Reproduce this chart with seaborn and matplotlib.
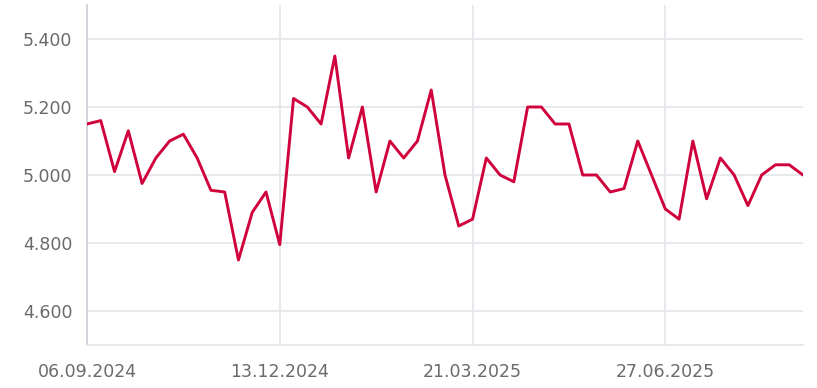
import matplotlib
matplotlib.use("Agg")
import matplotlib.pyplot as plt
import matplotlib.dates as mdates
import matplotlib.ticker as mticker
import seaborn as sns
import pandas as pd
import numpy as np

start_date = "2024-09-06"
n_weeks = 53
values = [5150, 5160, 5010, 5130, 4975, 5050, 5100, 5120, 5050, 4955,
          4950, 4750, 4890, 4950, 4795, 5225, 5200, 5150, 5350, 5050,
          5200, 4950, 5100, 5050, 5100, 5250, 5000, 4850, 4870, 5050,
          5000, 4980, 5200, 5200, 5150, 5150, 5000, 5000, 4950, 4960,
          5100, 5000, 4900, 4870, 5100, 4930, 5050, 5000, 4910, 5000,
          5030, 5030, 5000]
tick_dates = ["2024-09-06", "2024-12-13", "2025-03-21", "2025-06-27"]
y_ticks = [4600, 4800, 5000, 5200, 5400]

dates = pd.date_range(start_date, periods=n_weeks, freq="7D")
df = pd.DataFrame({"date": dates, "value": values})

sns.set_theme(style="white")
plt.rcParams["font.family"] = ["DejaVu Sans"]

fig = plt.figure(figsize=(8.17, 3.88), dpi=100)
ax = fig.add_axes([87/817, 1-345/388, (803-87)/817, (345-5)/388])

grid_c = "#e3e6ea"
sns.lineplot(data=df, x="date", y="value", ax=ax, color="#d0023c", linewidth=2.1, zorder=3)

ax.set_ylim(4500, 5500)
ax.set_xlim(dates[0], dates[-1])
ax.set_yticks(y_ticks)
ax.yaxis.set_major_formatter(mticker.FuncFormatter(lambda v, p: f"{v:,.0f}".replace(",", ".")))
ax.set_xticks(pd.to_datetime(tick_dates))
ax.xaxis.set_major_formatter(mdates.DateFormatter("%d.%m.%Y"))

ax.grid(True, color=grid_c, linewidth=1.2)
for s in ["top", "right"]:
    ax.spines[s].set_visible(False)
ax.spines["left"].set_color("#ccd1d6")
ax.spines["left"].set_linewidth(1.2)
ax.spines["bottom"].set_color(grid_c)
ax.spines["bottom"].set_linewidth(1.2)
ax.tick_params(axis="y", length=9, width=1.2, color=grid_c, pad=1.5, labelsize=12.5, labelcolor="#6a6a6a")
ax.tick_params(axis="x", length=8, width=1.2, color=grid_c, pad=5, labelsize=12.5, labelcolor="#6a6a6a")
ax.set_xlabel("")
ax.set_ylabel("")

fig.savefig("out.png", dpi=100)
